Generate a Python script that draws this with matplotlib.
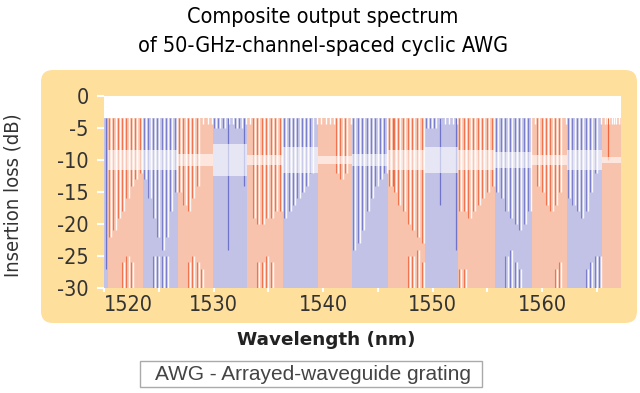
import numpy as np
import matplotlib.pyplot as plt
from matplotlib.patches import FancyBboxPatch, Rectangle

narrow = ['DejaVu Sans']

# passband groups (nm); colours alternate orange / blue, 8 channels each
group_start = [1520.35, 1523.55, 1526.75, 1529.95, 1533.05, 1536.35, 1539.55,
               1542.65, 1545.9, 1549.3, 1552.3, 1555.7, 1559.05, 1562.25, 1565.5]
group_end = group_start[1:] + [1567.2]
group_kind = ['o', 'b', 'o', 'b', 'o', 'b', 'o', 'b', 'o', 'b', 'o', 'b', 'o', 'b', 'o']
nan = np.nan

# depth (dB) reached by the gap between neighbouring channels, per channel
top_depth = [
    [-22, -21, -19, -18, -16, -14, -13, -12],
    [-13, -16, -19, -22, -24, -22, -18, -15],
    [-15, -17, -18, -16, -14, nan, nan, nan],
    [-5, -5, -5, nan, nan, -5, -5, nan],
    [nan, -19, -20, -20, -19, -19, -18, -18],
    [-19, -18, -17, -16, -15, -14, -12, nan],
    [nan, nan, nan, nan, -12, -13, -12, nan],
    [-24, -23, -21, -18, -16, -14, -13, -12],
    [-14, -15, -17, -18, -20, -21, -22, -23],
    [-5, -5, -5, nan, nan, nan, nan, nan],
    [-18, -18, -19, -18, -17, -16, -15, -14],
    [-15, -16, -18, -19, -20, -21, -20, -18],
    [nan, -14, -15, -17, -18, -17, -15, nan],
    [-16, -17, -18, -19, -18, -15, -12, nan],
    [nan, nan, nan, nan, nan, nan, nan, nan],
]
# level (dB) where the lower gaps start, up from -30
bot_level = [
    [nan, nan, nan, -26, -25, -26, nan, nan],
    [nan, nan, -25, -25, -25, -25, nan, nan],
    [nan, nan, -26, -25, -26, -27, nan, nan],
    [nan, nan, nan, nan, nan, nan, nan, nan],
    [nan, nan, -26, -26, -25, -26, nan, nan],
    [nan, nan, nan, nan, nan, nan, nan, nan],
    [nan, nan, nan, nan, nan, nan, nan, nan],
    [nan, nan, nan, nan, nan, nan, nan, nan],
    [nan, nan, nan, nan, -25, -25, -24, -26],
    [nan, nan, nan, nan, nan, nan, nan, nan],
    [-27, -27, nan, nan, nan, nan, nan, nan],
    [nan, nan, -25, -24, -26, -27, nan, nan],
    [nan, nan, nan, nan, nan, -27, -26, nan],
    [nan, nan, nan, nan, -27, -26, -25, -25],
    [nan, nan, nan, nan, nan, nan, nan, nan],
]
# half width (dB) of the pale crosstalk band around -10 dB
band_half = [1.5, 1.5, 1.0, 2.5, 0.8, 2.0, 0.7, 1.0, 1.5, 2.0, 1.5, 1.2, 0.8, 1.5, 0.5]

# a few lone channel traces inside the solid blocks
lone_x = [1520.15, 1531.3, 1532.8, 1546.4, 1550.7, 1552.1, 1566.0]
lone_lo = [-27, -24, -14, -14, -17, -24, -10]
lone_kind = ['b', 'b', 'b', 'o', 'b', 'b', 'o']

peak = -3.5
fill_col = {'o': '#f8c3ad', 'b': '#c1c2e5'}
line_col = {'o': '#f0673f', 'b': '#6f74c6'}

fig = plt.figure(figsize=(6.4, 3.93), dpi=100)
bg = fig.add_axes([0, 0, 1, 1])
bg.set_xlim(0, 640)
bg.set_ylim(393, 0)
bg.axis('off')
r = 12
bg.add_patch(FancyBboxPatch((41 + r, 70 + r), 596 - 2 * r, 253 - 2 * r,
                            boxstyle='round,pad=%d' % r, fc='#fedf9c', ec='none'))

bg.text(323, 17, 'Composite output spectrum', ha='center', va='center',
        fontsize=15.5, family=narrow, stretch='condensed', color='black')
bg.text(323, 46, 'of 50-GHz-channel-spaced cyclic AWG', ha='center', va='center',
        fontsize=15.5, family=narrow, stretch='condensed', color='black')
bg.text(326, 340, 'Wavelength (nm)', ha='center', va='center',
        fontsize=13.2, fontweight='bold', color='#222222')
bg.add_patch(Rectangle((140, 361), 342, 26, fc='white', ec='#aaaaaa', lw=1))
bg.text(155, 374.5, 'AWG - Arrayed-waveguide grating', ha='left', va='center',
        fontsize=15, family=['Liberation Sans', 'DejaVu Sans'], color='#444444')
bg.text(13, 195, 'Insertion loss (dB)', ha='center', va='center', rotation=90,
        fontsize=14.5, family=narrow, stretch='condensed', color='#333333')

ax = fig.add_axes([104 / 640, 1 - 288 / 393, 517 / 640, 192 / 393])
ax.set_xlim(1520, 1567.2)
ax.set_ylim(-30, 0)

# thin blue piece at the left edge
ax.fill_between([1520, group_start[0]], -30, peak, color=fill_col['b'], lw=0, zorder=1)

for g in range(len(group_start)):
    s, e, k = group_start[g], group_end[g], group_kind[g]
    ax.fill_between([s, e], -30, peak, color=fill_col[k], lw=0, zorder=1)
    w = (e - s) / 8
    for i in range(8):
        c = s + (i + 0.5) * w
        d = top_depth[g][i]
        if np.isnan(d):
            ax.vlines(c + 0.1, -4.4, peak + 0.3, color='white', lw=1.0, zorder=2)
        else:
            ax.vlines(c - 0.1, d, peak, color=line_col[k], lw=0.8, alpha=0.85, zorder=2)
            ax.vlines(c + 0.1, d, peak + 0.3, color='white', lw=1.0, alpha=0.9, zorder=2)
        b = bot_level[g][i]
        if not np.isnan(b):
            ax.vlines(c - 0.1, -30, b, color=line_col[k], lw=0.8, alpha=0.85, zorder=2)
            ax.vlines(c + 0.1, -30, b, color='white', lw=1.0, alpha=0.9, zorder=2)
    h = band_half[g]
    ax.fill_between([s, e], -10 - h, -10 + h, color='white', alpha=0.6, lw=0, zorder=3)

for x, lo, k in zip(lone_x, lone_lo, lone_kind):
    ax.vlines(x, lo, peak, color=line_col[k], lw=0.9, zorder=2)

for sp in ax.spines.values():
    sp.set_visible(False)
ax.set_yticks([0, -5, -10, -15, -20, -25, -30])
ax.set_yticklabels(['0', '-5', '-10', '-15', '-20', '-25', '-30'])
ax.set_xticks([1520, 1525, 1530, 1535, 1540, 1545, 1550, 1555, 1560, 1565])
ax.set_xticklabels(['1520', '', '1530', '', '1540', '', '1550', '', '1560', ''])
ax.tick_params(axis='both', colors='white', width=1.5, length=5, labelcolor='#333333',
               labelsize=15.5)
ax.tick_params(axis='y', pad=6)
ax.tick_params(axis='x', length=3, pad=2)
for t in ax.get_xticklabels() + ax.get_yticklabels():
    t.set_family(narrow)
    t.set_stretch('condensed')
ax.get_xticklabels()[0].set_ha('left')
ax.get_xticklabels()[0].set_x(1519.8)

fig.savefig('out.png', dpi=100)
